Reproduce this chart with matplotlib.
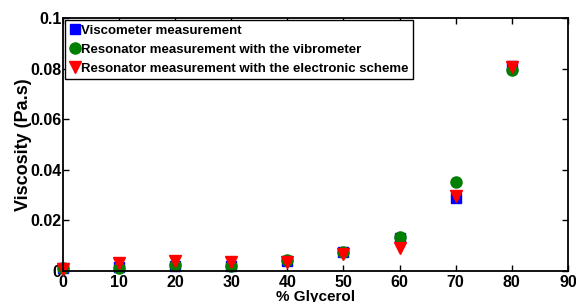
import matplotlib
matplotlib.use('Agg')
import matplotlib.pyplot as plt

plt.rcParams.update({
    'font.family': 'Liberation Sans',
    'font.weight': 'bold',
    'font.size': 10,
    'xtick.direction': 'in',
    'ytick.direction': 'in',
    'xtick.top': True,
    'ytick.right': True,
    'axes.linewidth': 1.3,
})

glycerol = [0, 10, 20, 30, 40, 50, 60, 70, 80]
visco = [0.001, 0.0015, 0.002, 0.002, 0.004, 0.0076, 0.013, 0.0288, 0.081]
vibro = [0.001, 0.0012, 0.0023, 0.002, 0.0043, 0.0076, 0.0133, 0.035, 0.0794]
elec = [0.0007, 0.003, 0.004, 0.0034, 0.0034, 0.0067, 0.009, 0.0296, 0.0807]

fig = plt.figure(figsize=(5.76, 3.02), dpi=100)
ax = fig.add_axes([0.109, 0.103, 0.877, 0.837])

ax.plot(glycerol, visco, 's', color='#0000ff', ms=7.5, clip_on=False, label='Viscometer measurement')
ax.plot(glycerol, vibro, 'o', color='#007f00', ms=8, clip_on=False, label='Resonator measurement with the vibrometer')
ax.plot(glycerol, elec, 'v', color='#ff0000', ms=9, clip_on=False, label='Resonator measurement with the electronic scheme')

ax.set_xlim(0, 90)
ax.set_ylim(0, 0.1)
ax.set_xticks(range(0, 91, 10))
ax.set_yticks([0, 0.02, 0.04, 0.06, 0.08, 0.1])
ax.set_yticklabels(['0', '0.02', '0.04', '0.06', '0.08', '0.1'])
ax.tick_params(length=4, width=1, labelsize=11.5)
ax.tick_params(axis='y', pad=1)
ax.tick_params(axis='x', pad=3)
ax.set_xlabel('% Glycerol', fontweight='bold', fontsize=11, labelpad=0)
ax.set_ylabel('Viscosity (Pa.s)', fontweight='bold', fontsize=13, labelpad=-1)

leg = ax.legend(loc='upper left', fontsize=9.5, handlelength=0.8, handletextpad=0.1,
                borderpad=0.35, labelspacing=0.5, borderaxespad=0.15, fancybox=False,
                framealpha=1, edgecolor='black')
leg.get_frame().set_linewidth(1.0)

fig.savefig('out.png', dpi=100)
